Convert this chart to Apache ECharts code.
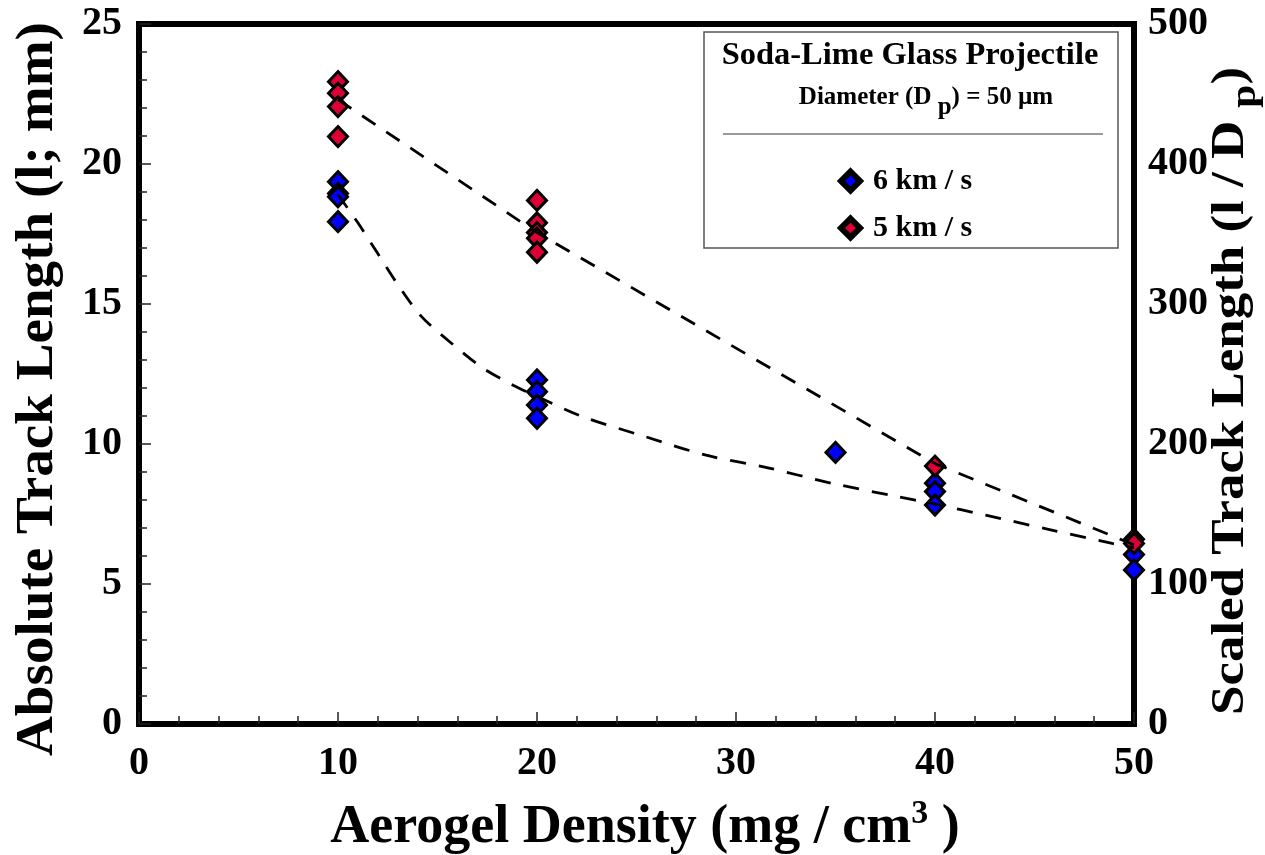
<!DOCTYPE html>
<html>
<head>
<meta charset="utf-8">
<script src="https://cdn.jsdelivr.net/npm/echarts@6/dist/echarts.min.js"></script>
<style>
  html, body { margin: 0; padding: 0; background: #fff; }
  #chart { width: 1265px; height: 855px; }
</style>
</head>
<body>
<div id="chart"></div>
<script>
// Track length measurements (mm) for 50 µm soda-lime glass shot into aerogel
const blueDensity = [10, 10, 10, 10, 20, 20, 20, 20, 35, 40, 40, 40, 50, 50];
const blueLength  = [19.37, 18.95, 18.83, 17.94, 12.29, 11.87, 11.39, 10.92, 9.70, 8.60, 8.30, 7.82, 6.05, 5.50];
const redDensity  = [10, 10, 10, 10, 20, 20, 20, 20, 20, 40, 50, 50];
const redLength   = [22.94, 22.53, 22.05, 20.98, 18.70, 17.90, 17.55, 17.35, 16.85, 9.21, 6.60, 6.45];

// Dashed trend curves
const fit6Density = [10, 11, 12, 13, 14.2, 15.7, 17.2, 18.8, 20, 22.2, 25.5, 28.5, 31.6, 34.8, 37.9, 40, 42.6, 45.7, 48.9, 50];
const fit6Length  = [18.9, 17.9, 16.8, 15.7, 14.55, 13.6, 12.75, 12.1, 11.7, 11.0, 10.25, 9.6, 9.15, 8.6, 8.15, 7.85, 7.45, 6.95, 6.45, 6.3];
const fit5Density = [10, 20, 40, 50];
const fit5Length  = [22.3, 17.55, 9.3, 6.4];

// Axis ticks
const xTicks = [0, 10, 20, 30, 40, 50];
const yLeftTicks = [0, 5, 10, 15, 20, 25];
const yRightTicks = [0, 100, 200, 300, 400, 500];

const seriesNames = ['6 km / s', '5 km / s'];
const FONT = '"Liberation Serif", "Times New Roman", serif';

const pairs = (xs, ys) => xs.map((x, i) => [x, ys[i]]);

const chart = echarts.init(document.getElementById('chart'), null, { renderer: 'canvas' });

const tickLabel = { color: '#000', fontFamily: FONT, fontWeight: 'bold', fontSize: 40 };

const option = {
  animation: false,
  backgroundColor: '#fff',
  grid: {
    left: 139, right: 131, top: 24, bottom: 131,
    show: true, borderColor: '#000', borderWidth: 6,
    containLabel: false, outerBoundsMode: 'none'
  },
  xAxis: {
    type: 'value',
    min: xTicks[0], max: xTicks[xTicks.length - 1], interval: 10,
    axisLine: { show: false },
    axisTick: { show: true, inside: true, length: 12, lineStyle: { color: '#222', width: 1.5 } },
    minorTick: { show: true, splitNumber: 5, length: 8, lineStyle: { color: '#222', width: 1.5 } },
    splitLine: { show: false },
    axisLabel: Object.assign({ margin: 20 }, tickLabel)
  },
  yAxis: [
    {
      type: 'value',
      min: yLeftTicks[0], max: yLeftTicks[yLeftTicks.length - 1], interval: 5,
      axisLine: { show: false },
      axisTick: { show: true, inside: true, length: 12, lineStyle: { color: '#222', width: 1.5 } },
      minorTick: { show: true, splitNumber: 5, length: 8, lineStyle: { color: '#222', width: 1.5 } },
      splitLine: { show: false },
      axisLabel: Object.assign({ margin: 17 }, tickLabel)
    },
    {
      type: 'value', position: 'right',
      min: yRightTicks[0], max: yRightTicks[yRightTicks.length - 1], interval: 100,
      axisLine: { show: false },
      axisTick: { show: false },
      splitLine: { show: false },
      axisLabel: Object.assign({ margin: 14 }, tickLabel)
    }
  ],
  legend: {
    data: seriesNames,
    orient: 'vertical',
    left: 833, top: 160,
    itemWidth: 19, itemHeight: 19,
    itemGap: 15,
    icon: 'diamond',
    itemStyle: { borderColor: '#000', borderWidth: 6 },
    textStyle: { color: '#000', fontFamily: FONT, fontWeight: 'bold', fontSize: 30, lineHeight: 32, padding: [0, 0, 0, 8] }
  },
  graphic: [
    {
      type: 'rect', z: 1,
      shape: { x: 704, y: 32, width: 414, height: 216 },
      style: { fill: '#fff', stroke: '#555', lineWidth: 1.5 }
    },
    {
      type: 'text', z: 2, x: 910, y: 56,
      style: { text: 'Soda-Lime Glass Projectile', fill: '#000', fontFamily: FONT, fontWeight: 'bold', fontSize: 32.5, align: 'center', verticalAlign: 'middle' }
    },
    {
      type: 'text', z: 2, x: 926, y: 85,
      style: {
        text: '{n|Diameter (D }{s|p}{n|) = 50 µm}',
        align: 'center', verticalAlign: 'top',
        rich: {
          n: { fill: '#000', fontFamily: FONT, fontWeight: 'bold', fontSize: 25, verticalAlign: 'bottom', padding: [0, 0, 10, 0] },
          s: { fill: '#000', fontFamily: FONT, fontWeight: 'bold', fontSize: 25, verticalAlign: 'bottom', padding: [0, 0, 0, 0] }
        }
      }
    },
    {
      type: 'line', z: 2,
      shape: { x1: 723, y1: 134, x2: 1103, y2: 134 },
      style: { stroke: '#777', lineWidth: 1.5 }
    },
    {
      type: 'text', x: 39, y: 389, rotation: Math.PI / 2, scaleX: 1.06,
      style: { text: 'Absolute Track Length (l; mm)', fill: '#000', fontFamily: FONT, fontWeight: 'bold', fontSize: 52, align: 'center', verticalAlign: 'middle' }
    },
    {
      type: 'text', x: 1236, y: 391, rotation: Math.PI / 2, scaleX: 1.15,
      style: {
        text: '{n|Scaled Track Length (l / D }{s|p}{n|)}',
        align: 'center', verticalAlign: 'middle',
        rich: {
          n: { fill: '#000', fontFamily: FONT, fontWeight: 'bold', fontSize: 46, verticalAlign: 'bottom', padding: [0, 0, 10, 0] },
          s: { fill: '#000', fontFamily: FONT, fontWeight: 'bold', fontSize: 36, verticalAlign: 'bottom', padding: [0, 0, 0, 0] }
        }
      }
    },
    {
      type: 'text', x: 645, y: 826,
      style: {
        text: '{n|Aerogel Density (mg / cm}{u|3}{n| )}',
        align: 'center', verticalAlign: 'middle',
        rich: {
          n: { fill: '#000', fontFamily: FONT, fontWeight: 'bold', fontSize: 54, verticalAlign: 'bottom', padding: [0, 0, 0, 0] },
          u: { fill: '#000', fontFamily: FONT, fontWeight: 'bold', fontSize: 34, verticalAlign: 'bottom', padding: [0, 0, 24, 0] }
        }
      }
    }
  ],
  series: [
    {
      name: seriesNames[0], type: 'scatter', z: 3,
      symbol: 'diamond', symbolSize: [19, 20],
      itemStyle: { color: '#0000ff', borderColor: '#000', borderWidth: 3, opacity: 1 },
      data: pairs(blueDensity, blueLength)
    },
    {
      name: seriesNames[1], type: 'scatter', z: 4,
      symbol: 'diamond', symbolSize: [19, 20],
      itemStyle: { color: '#dc0035', borderColor: '#000', borderWidth: 3, opacity: 1 },
      data: pairs(redDensity, redLength)
    },
    {
      name: 'fit 6', type: 'line', z: 5, smooth: 0.3,
      symbol: 'none', silent: true,
      lineStyle: { color: '#000', width: 2.8, type: [16, 13] },
      data: pairs(fit6Density, fit6Length)
    },
    {
      name: 'fit 5', type: 'line', z: 5, smooth: false,
      symbol: 'none', silent: true,
      lineStyle: { color: '#000', width: 2.8, type: [16, 13] },
      data: pairs(fit5Density, fit5Length)
    }
  ]
};

chart.setOption(option);
</script>
</body>
</html>
